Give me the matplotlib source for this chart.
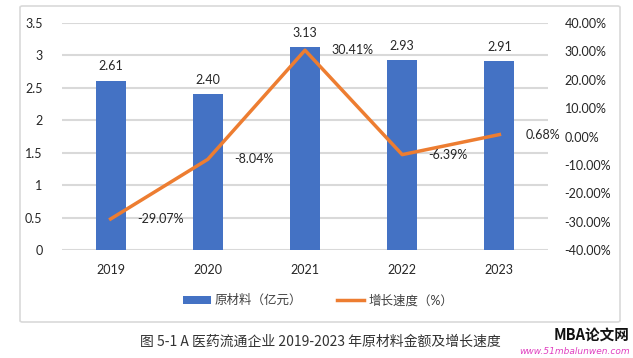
import matplotlib.pyplot as plt
from matplotlib.patches import FancyBboxPatch
from matplotlib.ticker import FuncFormatter

years = ["2019", "2020", "2021", "2022", "2023"]
material = [2.61, 2.40, 3.13, 2.93, 2.91]   # 亿元
growth = [-29.07, -8.04, 30.41, -6.39, 0.68]  # %

plt.rcParams['font.family'] = ['Lato', 'Noto Sans CJK SC', 'DejaVu Sans']
plt.rcParams['font.size'] = 9

fig = plt.figure(figsize=(6.33, 3.58), dpi=100)

# chart frame
frame = FancyBboxPatch((20 / 633, 1 - 322 / 358), 600 / 633, 316 / 358,
                       boxstyle="round,pad=0,rounding_size=0.004",
                       transform=fig.transFigure, facecolor='white',
                       edgecolor='#D9D9D9', linewidth=1.2, zorder=-5)
fig.patches.append(frame)

ax = fig.add_axes([62 / 633, 1 - 250 / 358, 486 / 633, 227 / 358])
ax.set_facecolor('none')
x = range(len(years))
bars = ax.bar(x, material, width=0.31, color='#4472C4', label='原材料（亿元）', zorder=2)
ax.set_ylim(0, 3.5)
ax.set_xlim(-0.5, 4.5)
ax.set_yticks([0, 0.5, 1, 1.5, 2, 2.5, 3, 3.5])
ax.yaxis.set_major_formatter(FuncFormatter(lambda v, p: f"{v:g}"))
ax.set_xticks(list(x))
ax.set_xticklabels(years)
ax.grid(axis='y', color='#D9D9D9', linewidth=1.5, zorder=0)
ax.set_axisbelow(True)
for s in ax.spines.values():
    s.set_visible(False)
ax.tick_params(length=0, colors='#262626', labelsize=9)
ax.tick_params(axis='x', pad=10)
ax.tick_params(axis='y', pad=14)
for b, v in zip(bars, material):
    ax.annotate(f"{v:.2f}", (b.get_x() + b.get_width() / 2, v), xytext=(0, 6),
                textcoords='offset points', ha='center', va='bottom',
                fontsize=9, color='#262626')

ax2 = ax.twinx()
line, = ax2.plot(list(x), growth, color='#ED7D31', linewidth=2.5,
                 label='增长速度（%）', zorder=3)
ax2.set_ylim(-40, 40)
ax2.set_yticks(range(-40, 41, 10))
ax2.yaxis.set_major_formatter(FuncFormatter(lambda v, p: f"{v:.2f}%"))
for s in ax2.spines.values():
    s.set_visible(False)
ax2.tick_params(length=0, colors='#262626', labelsize=9, pad=12)
for i, v in enumerate(growth):
    ax2.annotate(f"{v:.2f}%", (i, v), xytext=(19, 0), textcoords='offset points',
                 ha='left', va='center', fontsize=9, color='#262626')

fig.legend(handles=[bars, line], labels=['原材料（亿元）', '增长速度（%）'],
           loc='center', bbox_to_anchor=(318 / 633, 1 - 300 / 358), ncol=2,
           frameon=False, fontsize=9, handlelength=2.2, handletextpad=0.3,
           columnspacing=2.8, labelcolor='#404040')

fig.text(320 / 633, 1 - 342 / 358, "图 5-1 A 医药流通企业 2019-2023 年原材料金额及增长速度",
         ha='center', va='center', fontsize=10, color='#333333',
         family=['Noto Sans CJK SC', 'DejaVu Sans'])
fig.text(592 / 633, 1 - 335 / 358, "MBA论文网", ha='center', va='center',
         fontsize=10.5, fontweight='bold', style='italic', color='#111111',
         family=['Noto Sans CJK SC', 'DejaVu Sans'])
fig.text(630 / 633, 1 - 352 / 358, "www.51mbalunwen.com", ha='right', va='center',
         fontsize=6.5, color='#E040C0', style='italic', family=['DejaVu Sans'])

fig.savefig("out.png", dpi=100)
